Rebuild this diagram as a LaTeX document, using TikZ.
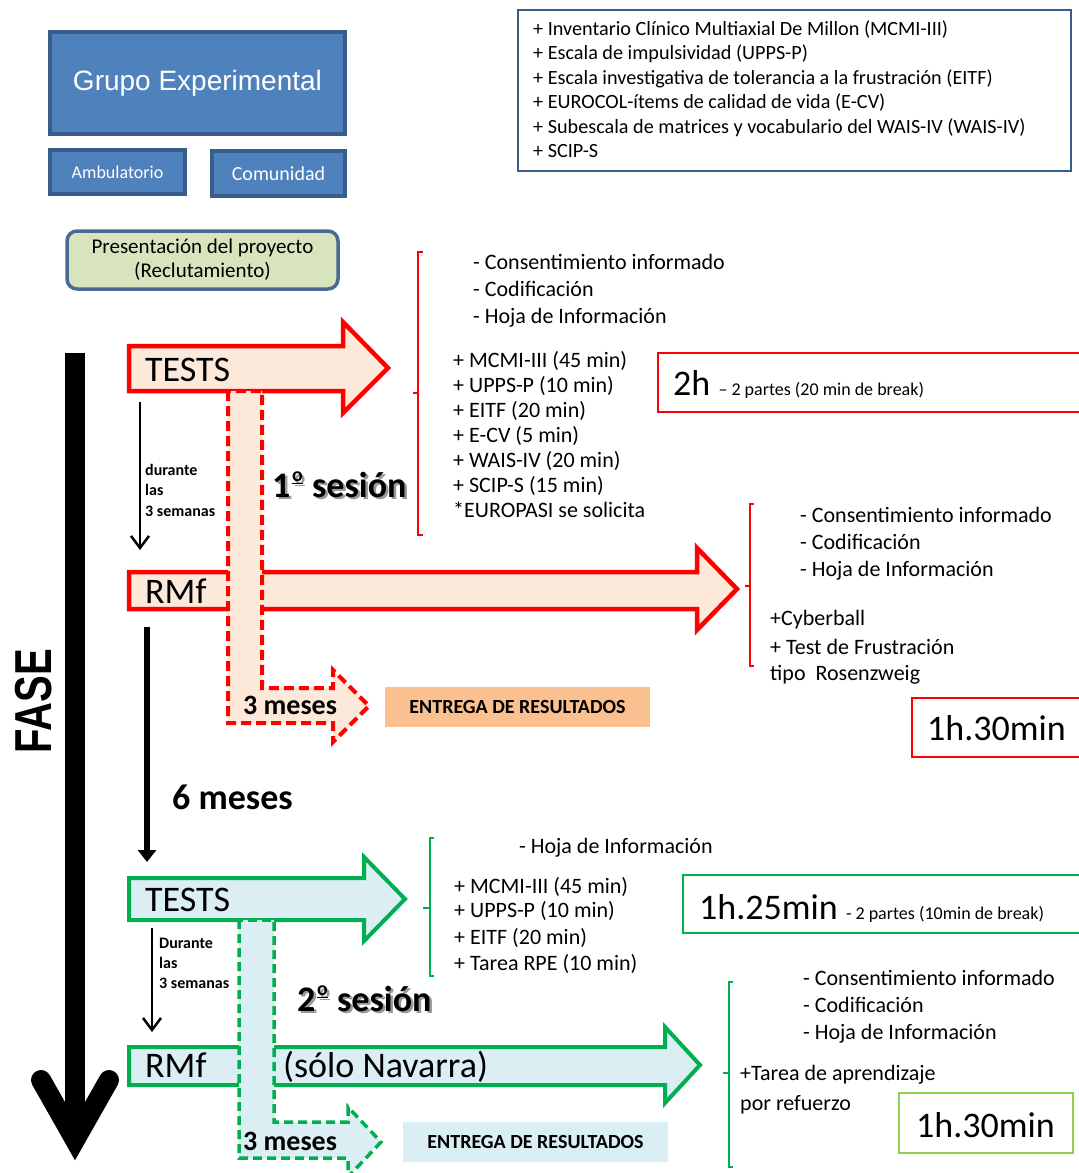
\documentclass[tikz,border=0pt]{standalone}
\usepackage{fontspec}
\setmainfont{Carlito}
\newfontfamily\arialfont{Liberation Sans}
\usetikzlibrary{arrows.meta}

\definecolor{boxblue}{HTML}{4F81BD}
\definecolor{boxedge}{HTML}{385D8A}
\definecolor{presfill}{HTML}{D7E4BD}
\definecolor{presedge}{HTML}{4A6A94}
\definecolor{peach}{HTML}{FDE9D9}
\definecolor{orangebox}{HTML}{FAC090}
\definecolor{sgreen}{HTML}{00B050}
\definecolor{aqua}{HTML}{DAEEF3}
\definecolor{lgreen}{HTML}{92D050}

\newcommand{\sz}[2]{\fontsize{#1}{#2}\selectfont}
\newcommand{\ordm}{\kern0.05em\raisebox{0.42em}{\scalebox{0.55}{\underline{o}}}\kern0.03em}
\newcommand{\shadowed}[1]{\rlap{\textcolor{black!40}{\hspace{2.5pt}\raisebox{-2.5pt}{#1}}}#1}

\tikzset{
  bluebox/.style={draw=boxedge, fill=boxblue, line width=3.5, text=white},
  txt/.style={anchor=base west, inner sep=0pt},
  listtxt/.style={txt, font=\sz{22}{26}},
  bigtxt/.style={txt, font=\sz{36}{40}},
  boldtxt/.style={txt, font=\bfseries\sz{36}{40}},
  smalltxt/.style={txt, font=\bfseries\sz{16}{20}},
  redarrow/.style={draw=red, fill=peach, line width=4.5},
  reddash/.style={redarrow, line width=4, dash pattern=on 10pt off 5pt},
  greenarrow/.style={draw=sgreen, fill=aqua, line width=4},
  greendash/.style={greenarrow, line width=3.5, dash pattern=on 9pt off 5pt},
  bracket/.style={line width=1.5},
  result/.style={font=\bfseries\sz{20}{24}, minimum width=265, minimum height=40, inner sep=0pt},
}

\begin{document}
\begin{tikzpicture}[x=1pt,y=-1pt]
\useasboundingbox (0,0) rectangle (1079,1173);

% grupo y escalas
\node[bluebox, minimum width=295, minimum height=102, font=\arialfont\sz{28}{32}] (grupo) at (197.5,83) {Grupo Experimental};
\node[bluebox, minimum width=135, minimum height=44, font=\sz{18}{22}] (ambu) at (117.5,172) {Ambulatorio};
\node[bluebox, minimum width=133, minimum height=45, font=\sz{20}{24}] (comu) at (278.5,173.5) {Comunidad};
\draw[boxedge, line width=1.8] (518,10) rectangle (1071,171);
\foreach \t [count=\i from 0] in {{+ Inventario Clínico Multiaxial De Millon (MCMI-III)},
    {+ Escala de impulsividad (UPPS-P)},
    {+ Escala investigativa de tolerancia a la frustración (EITF)},
    {+ EUROCOL-ítems de calidad de vida (E-CV)},
    {+ Subescala de matrices y vocabulario del WAIS-IV (WAIS-IV)},
    {+ SCIP-S}}
  \node[txt, font=\sz{20.2}{24}] (esc-\i) at (533,{35.5+24.4*\i}) {\t};

\node[draw=presedge, fill=presfill, line width=3.5, rounded corners=10pt, minimum width=271, minimum height=58,
  align=center, font=\sz{21}{24}] (pres) at (202.5,260) {Presentación del proyecto\\(Reclutamiento)};

% eje de fase
\draw[line width=20] (75,353) -- (75,1142);
\draw[line width=20, line cap=round] (41,1080) -- (75,1140) -- (109,1080);
\node[rotate=90, font=\arialfont\bfseries\sz{40}{44}] (fase) at (33.5,701) {\scalebox{1}[1.3]{FASE}};

% 1a sesion
\draw[redarrow] (129,346) -- (343,346) -- (343,322) -- (388,368) -- (343,413) -- (343,391) -- (129,391) -- cycle;
\draw[redarrow] (129,572) -- (697,572) -- (697,548) -- (737,589) -- (697,630) -- (697,609) -- (129,609) -- cycle;
\draw[reddash] (228,391) -- (228,723) -- (333,723) -- (333,742) -- (369,706) -- (333,670) -- (333,688)
  -- (262,688) -- (262,391) -- cycle;
\node[bigtxt] (tests1) at (145,381) {TESTS};
\node[bigtxt] (rmf1) at (145,603) {RMf};
\node[boldtxt] (ses1) at (272,497) {\shadowed{1\ordm{} sesión}};
\node[txt, font=\bfseries\sz{28}{32}] (tres1) at (243,714) {3 meses};
\node[result, fill=orangebox] (entrega1) at (517.5,707) {ENTREGA DE RESULTADOS};

\coordinate (d1a) at (140,402);
\coordinate (d1b) at (140,550);
\draw[line width=2.5, -{Straight Barb[length=12pt,width=18pt]}] (d1a) -- (d1b);
\foreach \t [count=\i from 0] in {durante,las,3 semanas}
  \node[smalltxt] (dur1-\i) at (145,{475+20.5*\i}) {\t};

\draw[red, bracket] (423,252) -- (418,252) -- (418,535) -- (423,535);
\draw[red, bracket] (413,393) -- (418,393);
\foreach \t [count=\i from 0] in {{- Consentimiento informado},{- Codificación},{- Hoja de Información}}
  \node[listtxt] (pre1-\i) at (473,{269+27*\i}) {\t};
\foreach \t [count=\i from 0] in {{+ MCMI-III (45 min)},{+ UPPS-P (10 min)},{+ EITF (20 min)},
    {+ E-CV (5 min)},{+ WAIS-IV (20 min)},{+ SCIP-S (15 min)},{*EUROPASI se solicita}}
  \node[listtxt] (test1-\i) at (453,{367+25.1*\i}) {\t};

\draw[red, line width=2] (658,353) rectangle (1085,412);
\node[txt] (dur2h) at (673,395) {\sz{36}{40}2h \sz{18}{22}– 2 partes (20 min de break)};

\draw[red, bracket] (754,504) -- (750,504) -- (750,666) -- (754,666);
\draw[red, bracket] (745,586) -- (750,586);
\foreach \t [count=\i from 0] in {{- Consentimiento informado},{- Codificación},{- Hoja de Información}}
  \node[listtxt] (pre2-\i) at (800,{522+27*\i}) {\t};
\node[listtxt] (cyber) at (770,625) {+Cyberball};
\node[listtxt] (frus) at (770,654) {+ Test de Frustración};
\node[listtxt] (rosen) at (770,680) {tipo~ Rosenzweig};
\draw[red, line width=2] (912,698) rectangle (1085,757);
\node[bigtxt] (dur1h) at (927,740) {1h.30min};

% 6 meses
\coordinate (m6a) at (147,627);
\coordinate (m6b) at (147,862);
\draw[line width=6, -{Triangle[length=12pt,width=18pt]}] (m6a) -- (m6b);
\node[boldtxt] (seis) at (172,809) {6 meses};

% 2a sesion
\node[listtxt] (hoja3) at (519,853) {- Hoja de Información};
\draw[sgreen, bracket] (434,838) -- (430,838) -- (430,976) -- (434,976);
\draw[sgreen, bracket] (423,908) -- (430,908);
\foreach \t/\y [count=\i from 0] in {{+ MCMI-III (45 min)}/893,{+ UPPS-P (10 min)}/917,{+ EITF (20 min)}/944,{+ Tarea RPE (10 min)}/970}
  \node[listtxt] (test2-\i) at (454,\y) {\t};
\draw[sgreen, line width=2] (683,875) rectangle (1085,933);
\node[txt] (dur125) at (699,919) {\sz{36}{40}1h.25min \sz{18}{22}- 2 partes (10min de break)};

\draw[greenarrow] (129,878) -- (364,878) -- (364,857) -- (405,899) -- (364,941) -- (364,920) -- (129,920) -- cycle;
\draw[greenarrow] (129,1047) -- (665,1047) -- (665,1027) -- (700,1065) -- (665,1103) -- (665,1085) -- (129,1085) -- cycle;
\draw[greendash] (239,920) -- (239,1158) -- (348,1158) -- (348,1177) -- (381,1142) -- (348,1107) -- (348,1122)
  -- (274,1122) -- (274,920) -- cycle;
\node[bigtxt] (tests2) at (145,911) {TESTS};
\node[bigtxt] (rmf2) at (145,1077) {RMf};
\node[bigtxt] (navarra) at (283,1077) {(sólo Navarra)};
\node[boldtxt] (ses2) at (297,1011) {\shadowed{2\ordm{} sesión}};
\node[txt, font=\bfseries\sz{28}{32}] (tres2) at (243,1150) {3 meses};
\node[result, fill=aqua] (entrega2) at (535.5,1142) {ENTREGA DE RESULTADOS};

\coordinate (d2a) at (152,928);
\coordinate (d2b) at (152,1032);
\draw[line width=2.5, -{Straight Barb[length=12pt,width=18pt]}] (d2a) -- (d2b);
\foreach \t [count=\i from 0] in {Durante,las,3 semanas}
  \node[smalltxt] (dur2-\i) at (159,{948+20*\i}) {\t};

\draw[sgreen, bracket] (733,982) -- (729,982) -- (729,1167) -- (733,1167);
\draw[sgreen, bracket] (723,1073) -- (729,1073);
\foreach \t [count=\i from 0] in {{- Consentimiento informado},{- Codificación},{- Hoja de Información}}
  \node[listtxt] (pre3-\i) at (803,{985+27*\i}) {\t};
\node[listtxt] (tarea) at (740,1080) {+Tarea de aprendizaje};
\node[listtxt] (refuerzo) at (740,1110) {por refuerzo};
\draw[lgreen, line width=2.5] (899,1093) rectangle (1073,1153);
\node[bigtxt] (dur130) at (916,1137) {1h.30min};
\end{tikzpicture}
\end{document}
